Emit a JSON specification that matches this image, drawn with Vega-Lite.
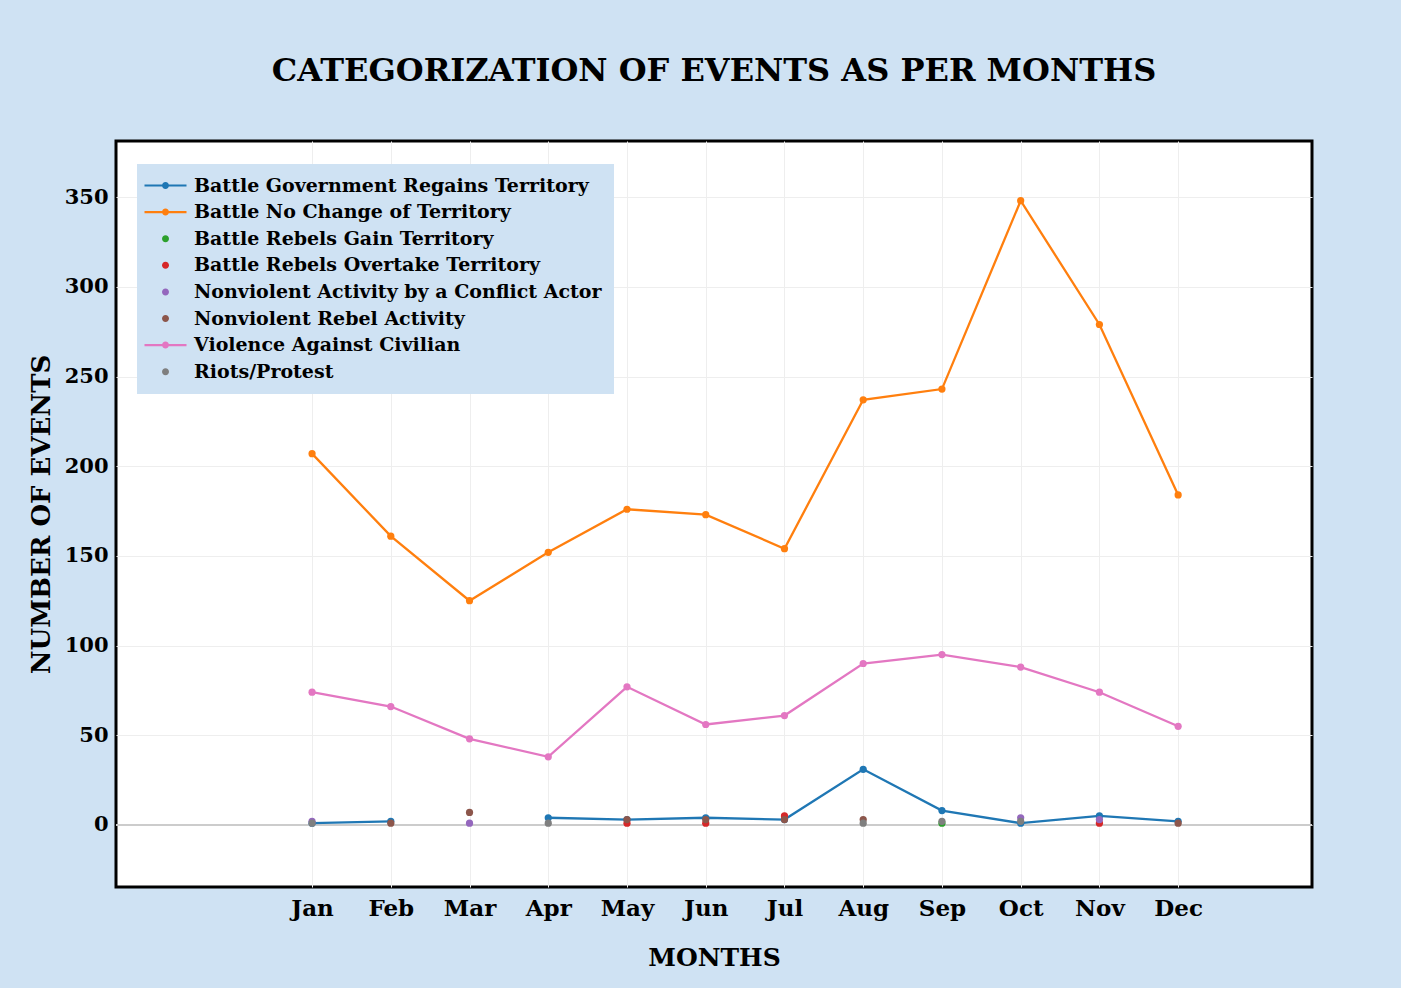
{
  "$schema": "https://vega.github.io/schema/vega-lite/v6.json",
  "width": 1196,
  "height": 746,
  "autosize": {"type": "none"},
  "padding": {"left": 116, "top": 141, "right": 89, "bottom": 101},
  "background": "#cfe2f3",
  "title": {
    "text": "CATEGORIZATION OF EVENTS AS PER MONTHS",
    "font": "DejaVu Serif",
    "fontWeight": "bold",
    "fontSize": 32,
    "color": "black",
    "anchor": "middle",
    "offset": 53
  },
  "config": {
    "view": {"fill": "white", "stroke": "black", "strokeWidth": 3},
    "axis": {
      "labelFont": "DejaVu Serif",
      "labelFontWeight": "bold",
      "labelFontSize": 21,
      "labelColor": "black",
      "titleFont": "DejaVu Serif",
      "titleFontWeight": "bold",
      "titleFontSize": 25,
      "titleColor": "black",
      "domain": false,
      "ticks": false,
      "gridColor": "#eeeeee",
      "gridWidth": 1
    },
    "legend": {
      "labelFont": "DejaVu Serif",
      "labelFontWeight": "bold",
      "labelFontSize": 19,
      "labelColor": "black",
      "labelLimit": 600
    }
  },
  "resolve": {"legend": {"color": "independent", "shape": "independent"}},
  "data": {
    "values": [
      {"month": 1, "series": "Battle Government Regains Territory", "count": 1},
      {"month": 2, "series": "Battle Government Regains Territory", "count": 2},
      {"month": 3, "series": "Battle Government Regains Territory", "count": null},
      {"month": 4, "series": "Battle Government Regains Territory", "count": 4},
      {"month": 5, "series": "Battle Government Regains Territory", "count": 3},
      {"month": 6, "series": "Battle Government Regains Territory", "count": 4},
      {"month": 7, "series": "Battle Government Regains Territory", "count": 3},
      {"month": 8, "series": "Battle Government Regains Territory", "count": 31},
      {"month": 9, "series": "Battle Government Regains Territory", "count": 8},
      {"month": 10, "series": "Battle Government Regains Territory", "count": 1},
      {"month": 11, "series": "Battle Government Regains Territory", "count": 5},
      {"month": 12, "series": "Battle Government Regains Territory", "count": 2},
      {"month": 1, "series": "Battle No Change of Territory", "count": 207},
      {"month": 2, "series": "Battle No Change of Territory", "count": 161},
      {"month": 3, "series": "Battle No Change of Territory", "count": 125},
      {"month": 4, "series": "Battle No Change of Territory", "count": 152},
      {"month": 5, "series": "Battle No Change of Territory", "count": 176},
      {"month": 6, "series": "Battle No Change of Territory", "count": 173},
      {"month": 7, "series": "Battle No Change of Territory", "count": 154},
      {"month": 8, "series": "Battle No Change of Territory", "count": 237},
      {"month": 9, "series": "Battle No Change of Territory", "count": 243},
      {"month": 10, "series": "Battle No Change of Territory", "count": 348},
      {"month": 11, "series": "Battle No Change of Territory", "count": 279},
      {"month": 12, "series": "Battle No Change of Territory", "count": 184},
      {"month": 9, "series": "Battle Rebels Gain Territory", "count": 1},
      {"month": 5, "series": "Battle Rebels Overtake Territory", "count": 1},
      {"month": 6, "series": "Battle Rebels Overtake Territory", "count": 1},
      {"month": 7, "series": "Battle Rebels Overtake Territory", "count": 5},
      {"month": 11, "series": "Battle Rebels Overtake Territory", "count": 1},
      {"month": 1, "series": "Nonviolent Activity by a Conflict Actor", "count": 2},
      {"month": 3, "series": "Nonviolent Activity by a Conflict Actor", "count": 1},
      {"month": 10, "series": "Nonviolent Activity by a Conflict Actor", "count": 4},
      {"month": 11, "series": "Nonviolent Activity by a Conflict Actor", "count": 3},
      {"month": 2, "series": "Nonviolent Rebel Activity", "count": 1},
      {"month": 3, "series": "Nonviolent Rebel Activity", "count": 7},
      {"month": 5, "series": "Nonviolent Rebel Activity", "count": 3},
      {"month": 6, "series": "Nonviolent Rebel Activity", "count": 3},
      {"month": 7, "series": "Nonviolent Rebel Activity", "count": 3},
      {"month": 8, "series": "Nonviolent Rebel Activity", "count": 3},
      {"month": 12, "series": "Nonviolent Rebel Activity", "count": 1},
      {"month": 1, "series": "Violence Against Civilian", "count": 74},
      {"month": 2, "series": "Violence Against Civilian", "count": 66},
      {"month": 3, "series": "Violence Against Civilian", "count": 48},
      {"month": 4, "series": "Violence Against Civilian", "count": 38},
      {"month": 5, "series": "Violence Against Civilian", "count": 77},
      {"month": 6, "series": "Violence Against Civilian", "count": 56},
      {"month": 7, "series": "Violence Against Civilian", "count": 61},
      {"month": 8, "series": "Violence Against Civilian", "count": 90},
      {"month": 9, "series": "Violence Against Civilian", "count": 95},
      {"month": 10, "series": "Violence Against Civilian", "count": 88},
      {"month": 11, "series": "Violence Against Civilian", "count": 74},
      {"month": 12, "series": "Violence Against Civilian", "count": 55},
      {"month": 1, "series": "Riots/Protest", "count": 1},
      {"month": 4, "series": "Riots/Protest", "count": 1},
      {"month": 8, "series": "Riots/Protest", "count": 1},
      {"month": 9, "series": "Riots/Protest", "count": 2},
      {"month": 10, "series": "Riots/Protest", "count": 2}
    ]
  },
  "layer": [
    {
      "mark": {"type": "rule", "color": "#cccccc", "strokeWidth": 2},
      "encoding": {
        "y": {"datum": 0, "type": "quantitative"}
      }
    },
    {
      "transform": [
        {"filter": {"field": "series", "oneOf": ["Battle Government Regains Territory", "Battle No Change of Territory", "Violence Against Civilian"]}}
      ],
      "mark": {"type": "line", "strokeWidth": 2.3, "invalid": "break-paths-filter-domains"},
      "encoding": {
        "x": {"field": "month", "type": "quantitative"},
        "y": {"field": "count", "type": "quantitative"},
        "color": {"field": "series", "type": "nominal", "legend": null}
      }
    },
    {
      "mark": {"type": "point", "filled": true, "size": 52, "opacity": 1},
      "encoding": {
        "x": {"field": "month", "type": "quantitative"},
        "y": {"field": "count", "type": "quantitative"},
        "color": {"field": "series", "type": "nominal", "legend": null}
      }
    },
    {
      "mark": {"type": "point", "filled": true, "opacity": 0},
      "encoding": {
        "x": {
          "field": "month",
          "type": "quantitative",
          "scale": {"domain": [-1.49, 13.7], "nice": false, "zero": false},
          "axis": {
            "values": [1, 2, 3, 4, 5, 6, 7, 8, 9, 10, 11, 12],
            "labelExpr": "['Jan','Feb','Mar','Apr','May','Jun','Jul','Aug','Sep','Oct','Nov','Dec'][datum.value - 1]",
            "title": "MONTHS",
            "grid": true,
            "labelFontSize": 23,
            "labelPadding": 10,
            "titlePadding": 25
          }
        },
        "y": {
          "field": "count",
          "type": "quantitative",
          "scale": {"domain": [-34.6, 381.3], "nice": false, "zero": false},
          "axis": {
            "values": [0, 50, 100, 150, 200, 250, 300, 350],
            "title": "NUMBER OF EVENTS",
            "titleFontSize": 26,
            "grid": true,
            "labelPadding": 8,
            "titlePadding": 10
          }
        },
        "color": {
          "field": "series",
          "type": "nominal",
          "scale": {
            "domain": ["Battle Government Regains Territory", "Battle No Change of Territory", "Battle Rebels Gain Territory", "Battle Rebels Overtake Territory", "Nonviolent Activity by a Conflict Actor", "Nonviolent Rebel Activity", "Violence Against Civilian", "Riots/Protest"],
            "range": ["#1f77b4", "#ff7f0e", "#2ca02c", "#d62728", "#9467bd", "#8c564b", "#e377c2", "#7f7f7f"]
          },
          "legend": {
            "title": null,
            "orient": "none",
            "legendX": 21,
            "legendY": 23,
            "fillColor": "#cfe2f3",
            "padding": 12,
            "symbolSize": 196,
            "symbolOpacity": 1,
            "symbolStrokeWidth": 0,
            "symbolOffset": 7,
            "labelOffset": 19,
            "rowPadding": 6.6
          }
        },
        "shape": {
          "field": "series",
          "type": "nominal",
          "scale": {
            "domain": ["Battle Government Regains Territory", "Battle No Change of Territory", "Battle Rebels Gain Territory", "Battle Rebels Overtake Territory", "Nonviolent Activity by a Conflict Actor", "Nonviolent Rebel Activity", "Violence Against Civilian", "Riots/Protest"],
            "range": [
              "M-3,-0.15H3V0.15H-3Z M0.5,0A0.5,0.5 0 1,1 -0.5,0A0.5,0.5 0 1,1 0.5,0Z",
              "M-3,-0.15H3V0.15H-3Z M0.5,0A0.5,0.5 0 1,1 -0.5,0A0.5,0.5 0 1,1 0.5,0Z",
              "M0.5,0A0.5,0.5 0 1,1 -0.5,0A0.5,0.5 0 1,1 0.5,0Z",
              "M0.5,0A0.5,0.5 0 1,1 -0.5,0A0.5,0.5 0 1,1 0.5,0Z",
              "M0.5,0A0.5,0.5 0 1,1 -0.5,0A0.5,0.5 0 1,1 0.5,0Z",
              "M0.5,0A0.5,0.5 0 1,1 -0.5,0A0.5,0.5 0 1,1 0.5,0Z",
              "M-3,-0.15H3V0.15H-3Z M0.5,0A0.5,0.5 0 1,1 -0.5,0A0.5,0.5 0 1,1 0.5,0Z",
              "M0.5,0A0.5,0.5 0 1,1 -0.5,0A0.5,0.5 0 1,1 0.5,0Z"
            ]
          },
          "legend": {
            "title": null,
            "orient": "none",
            "legendX": 21,
            "legendY": 23,
            "fillColor": "#cfe2f3",
            "padding": 12,
            "symbolSize": 196,
            "symbolOpacity": 1,
            "symbolStrokeWidth": 0,
            "symbolOffset": 7,
            "labelOffset": 19,
            "rowPadding": 6.6
          }
        }
      }
    }
  ]
}
